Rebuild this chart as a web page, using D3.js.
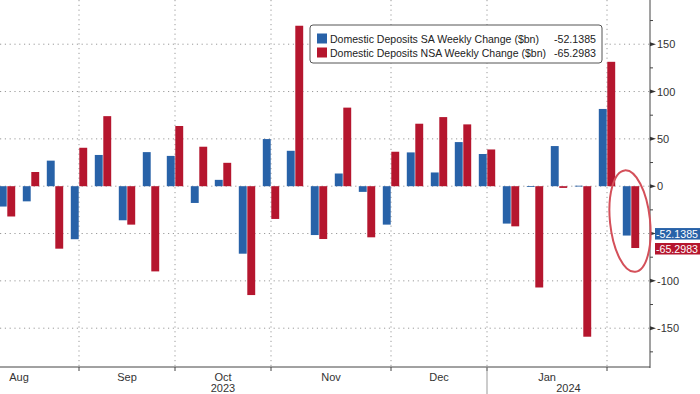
<!DOCTYPE html>
<html lang="en">
<head>
  <meta charset="utf-8">
  <title>Domestic Deposits Weekly Change</title>
  <script src="https://d3js.org/d3.v7.min.js"></script>
  <style>
    body { margin: 0; background: #fff; }
    svg { display: block; font-family: "Liberation Sans", Arial, sans-serif; }
    .grid line { stroke: #9a9a9a; stroke-dasharray: 1.2,3.6; }
    .tick-label { font-size: 11px; fill: #333; }
  </style>
</head>
<body>
<div id="chart"></div>
<script>

// weekly observations (Wednesdays), Aug 16 2023 .. Feb 14 2024
var weeks = ["2023-08-16","2023-08-23","2023-08-30","2023-09-06","2023-09-13","2023-09-20","2023-09-27",
             "2023-10-04","2023-10-11","2023-10-18","2023-10-25","2023-11-01","2023-11-08","2023-11-15",
             "2023-11-22","2023-11-29","2023-12-06","2023-12-13","2023-12-20","2023-12-27","2024-01-03",
             "2024-01-10","2024-01-17","2024-01-24","2024-01-31","2024-02-07","2024-02-14"];

// Domestic Deposits SA Weekly Change ($bn)
var saValues = [-21.5, -16, 27, -56, 33, -36, 36, 32, -17.7, 6.7, -71.3, 49.8, 37.4, -51.6,
                13.4, -6, -40.6, 35.7, 14.5, 46.6, 34, -39.5, -0.5, 42.4, 0.5, 81.6, -52.1385];

// Domestic Deposits NSA Weekly Change ($bn)
var nsaValues = [-32, 15, -66, 40.6, 74, -40.6, -90, 63.6, 41.7, 24.7, -115, -34.6, 169.5, -55.8,
                 83, -54, 36.4, 66, 73, 65.3, 38.8, -42.4, -107, -1.8, -159, 131.4, -65.2983];

var seriesNames = ["Domestic Deposits SA Weekly Change ($bn)", "Domestic Deposits NSA Weekly Change ($bn)"];
var seriesKeys = ["SA", "NSA"];
var colors = ["#2862a8", "#b5162e"];

// first observation of each month (axis ticks) + the virtual Aug start for label centring
var monthStarts = ["2023-08-02","2023-09-06","2023-10-04","2023-11-01","2023-12-06","2024-01-03","2024-02-07"];
var monthLabels = ["Aug","Sep","Oct","Nov","Dec","Jan"];
var yearLabels = ["2023","2024"];
var yTicks = [-150, -100, -50, 0, 50, 100, 150];
var yMinor = [-175, -125, -75, -25, 25, 75, 125, 175];

var W = 700, H = 394;
var plotRight = 650, plotBottom = 367;
var parse = d3.timeParse("%Y-%m-%d");
var fmt = function(v) { return d3.format(".4f")(v).replace("\u2212", "-"); };

var data = weeks.map(function(w, i) {
  return { date: parse(w), SA: saValues[i], NSA: nsaValues[i] };
});
var last = data[data.length - 1];

var x = d3.scaleTime()
    .domain([parse(weeks[0]), parse(weeks[weeks.length - 1])])
    .range([7, 631]);

var xSub = d3.scaleBand()
    .domain(seriesKeys)
    .range([-8.2, 8.2])
    .paddingInner(0.07);

var y = d3.scaleLinear()
    .domain([-191, 196.7])
    .range([plotBottom, 0]);

var svg = d3.select("#chart").append("svg")
    .attr("width", W)
    .attr("height", H);

svg.append("defs").append("clipPath").attr("id", "plot")
  .append("rect").attr("x", 0).attr("y", 0).attr("width", plotRight).attr("height", plotBottom);

// grid
var grid = svg.append("g").attr("class", "grid");
grid.selectAll(".hg").data(yTicks).enter().append("line")
    .attr("x1", 0).attr("x2", plotRight)
    .attr("y1", function(d) { return y(d); }).attr("y2", function(d) { return y(d); });
grid.selectAll(".vg").data(monthStarts.slice(1)).enter().append("line")
    .attr("x1", function(d) { return x(parse(d)); }).attr("x2", function(d) { return x(parse(d)); })
    .attr("y1", 0).attr("y2", plotBottom);

// bars
var bars = svg.append("g").attr("clip-path", "url(#plot)");
seriesKeys.forEach(function(k, si) {
  bars.selectAll(".bar-" + k).data(data).enter().append("rect")
      .attr("x", function(d) { return x(d.date) + xSub(k); })
      .attr("width", xSub.bandwidth())
      .attr("y", function(d) { return y(Math.max(0, d[k])); })
      .attr("height", function(d) { return Math.max(0.8, Math.abs(y(d[k]) - y(0))); })
      .attr("fill", colors[si]);
});

// right axis
var ax = svg.append("g");
ax.append("line").attr("x1", plotRight).attr("x2", plotRight).attr("y1", 0).attr("y2", plotBottom + 1)
    .attr("stroke", "#444").attr("stroke-width", 1);
ax.selectAll(".ymaj").data(yTicks).enter().append("path")
    .attr("d", function(d) { var yy = y(d); return "M" + plotRight + "," + (yy - 2) + "L" + (plotRight + 6) + "," + yy + "L" + plotRight + "," + (yy + 2) + "Z"; })
    .attr("fill", "#333");
ax.selectAll(".ymin").data(yMinor).enter().append("line")
    .attr("x1", plotRight).attr("x2", plotRight + 3)
    .attr("y1", function(d) { return y(d); }).attr("y2", function(d) { return y(d); })
    .attr("stroke", "#444");

// tick labels hidden where the last-value tags sit
var tagYs = seriesKeys.map(function(k) { return y(last[k]); });
ax.selectAll(".ylab").data(yTicks.filter(function(d) {
      return tagYs.every(function(t) { return Math.abs(y(d) - t) > 10; });
    })).enter().append("text")
    .attr("class", "tick-label")
    .attr("x", 657).attr("y", function(d) { return y(d) + 4; })
    .text(function(d) { return String(d); });

// last-value tags
seriesKeys.forEach(function(k, si) {
  var yy = y(last[k]) + (si === 0 ? -1.5 : 1);
  ax.append("rect").attr("x", 655).attr("y", yy - 6).attr("width", 45).attr("height", 11.5)
      .attr("fill", colors[si]);
  ax.append("text").attr("x", 656).attr("y", yy + 4)
      .attr("fill", "#fff").attr("font-size", 11)
      .attr("textLength", 42).attr("lengthAdjust", "spacingAndGlyphs")
      .text(fmt(last[k]));
});

// bottom axis
ax.append("line").attr("x1", 0).attr("x2", plotRight).attr("y1", plotBottom).attr("y2", plotBottom)
    .attr("stroke", "#444");
ax.selectAll(".xt").data(monthStarts.slice(1)).enter().append("line")
    .attr("x1", function(d) { return x(parse(d)); }).attr("x2", function(d) { return x(parse(d)); })
    .attr("y1", plotBottom).attr("y2", plotBottom + 4)
    .attr("stroke", "#444");
ax.selectAll(".xl").data(monthLabels).enter().append("text")
    .attr("class", "tick-label")
    .attr("font-size", 10.5)
    .attr("text-anchor", "middle")
    .attr("x", function(d, i) { return (x(parse(monthStarts[i])) + x(parse(monthStarts[i + 1]))) / 2; })
    .attr("y", 381)
    .text(function(d) { return d; });
var yearSplit = x(parse("2024-01-03"));
ax.append("line").attr("x1", yearSplit).attr("x2", yearSplit).attr("y1", plotBottom).attr("y2", H)
    .attr("stroke", "#999");
ax.selectAll(".yl").data(yearLabels).enter().append("text")
    .attr("class", "tick-label")
    .attr("text-anchor", "middle")
    .attr("x", function(d, i) { return i === 0 ? (x(parse(monthStarts[0])) + yearSplit) / 2 : (yearSplit + plotRight) / 2; })
    .attr("y", 392)
    .text(function(d) { return d; });

// legend
var lg = svg.append("g");
lg.append("rect").attr("x", 310).attr("y", 25).attr("width", 292).attr("height", 38).attr("rx", 3)
    .attr("fill", "#fff").attr("stroke", "#555").attr("stroke-width", 1);
seriesNames.forEach(function(name, si) {
  var ly = 38.5 + si * 14;
  lg.append("rect").attr("x", 317).attr("y", ly - 5).attr("width", 10).attr("height", 10).attr("fill", colors[si]);
  lg.append("text").attr("x", 330).attr("y", ly + 4).attr("font-size", 11).attr("fill", "#222")
      .attr("textLength", si === 0 ? 209 : 216).attr("lengthAdjust", "spacingAndGlyphs")
      .text(name);
  lg.append("text").attr("x", 596).attr("y", ly + 4).attr("font-size", 11).attr("fill", "#222")
      .attr("text-anchor", "end")
      .attr("textLength", 42).attr("lengthAdjust", "spacingAndGlyphs")
      .text(fmt(last[seriesKeys[si]]));
});

// annotation ellipse around the latest week
var ex = x(last.date) - 1, ey = (y(0) + y(last.NSA)) / 2 + 4;
svg.append("ellipse")
    .attr("cx", ex).attr("cy", ey).attr("rx", 20).attr("ry", 51)
    .attr("transform", "rotate(-6," + ex + "," + ey + ")")
    .attr("fill", "none").attr("stroke", "#d4505a").attr("stroke-width", 2);

</script>
</body>
</html>
